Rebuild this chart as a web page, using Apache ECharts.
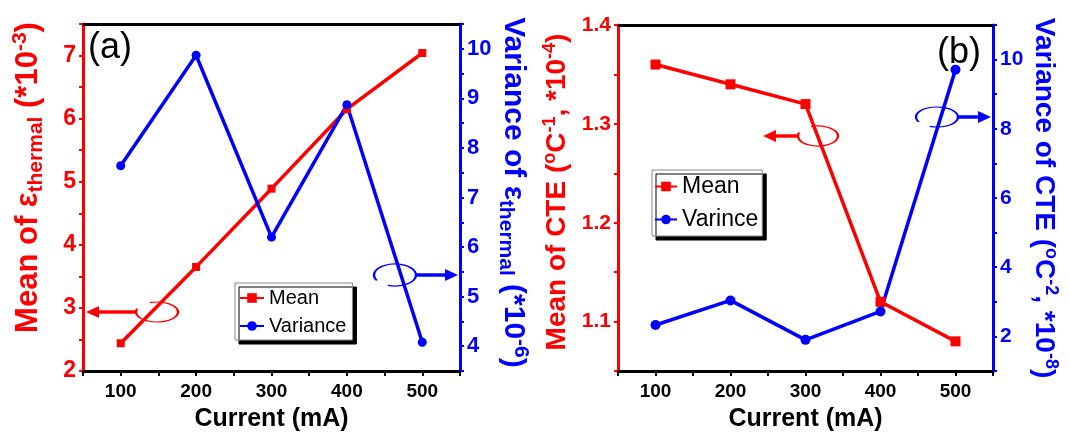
<!DOCTYPE html>
<html><head><meta charset="utf-8">
<script src="https://cdn.jsdelivr.net/npm/echarts@6/dist/echarts.min.js"></script>
<style>html,body{margin:0;padding:0;background:#fff}#c{width:1069px;height:437px}</style>
</head><body><div id="c"></div>
<script>
// ---- data ----
var currents = [100, 200, 300, 400, 500];
var meanThermal = [2.44, 3.65, 4.89, 6.15, 7.04];
var varThermal = [7.64, 9.87, 6.2, 8.87, 4.08];
var meanCTE = [1.36, 1.34, 1.32, 1.12, 1.08];
var varCTE = [2.33, 3.04, 1.9, 2.72, 9.71];
var xTicks = [100, 200, 300, 400, 500];
var legendA = ['Mean', 'Variance'];
var legendB = ['Mean', 'Varince'];

function pairs(xs, ys) { return xs.map(function (x, i) { return [x, ys[i]]; }); }

var RED = '#ff0000', BLUE = '#0000ff', FF = 'Liberation Sans';
var chart = echarts.init(document.getElementById('c'));

function xAx(grid, pos) {
  var top = pos === 'top';
  return {
    type: 'value', gridIndex: grid, position: pos, min: 50, max: 550, interval: 50,
    name: top ? '' : 'Current (mA)', nameLocation: 'middle', nameGap: 36,
    nameTextStyle: { fontFamily: FF, fontWeight: 'bold', fontSize: 25, color: '#000' },
    axisLine: { show: true, onZero: false, lineStyle: { color: '#000', width: 3 } },
    axisTick: { show: !top, length: 5, lineStyle: { color: '#000', width: 2 } },
    axisLabel: { show: !top, margin: 11, fontFamily: FF, fontWeight: 'bold', fontSize: 19, color: '#000',
      formatter: function (v) { return xTicks.indexOf(Math.round(v)) >= 0 ? String(Math.round(v)) : ''; } },
    splitLine: { show: false }
  };
}

function richBig(size, subSize, color) {
  return {
    m: { fontFamily: FF, fontWeight: 'bold', fontSize: size, color: color },
    sub: { fontFamily: FF, fontWeight: 'bold', fontSize: subSize, color: color, padding: [Math.round(size * 0.5), 0, 0, 0] },
    sup: { fontFamily: FF, fontWeight: 'bold', fontSize: subSize, color: color, padding: [0, 0, Math.round(size * 0.5), 0] }
  };
}

function yAx(grid, pos, color, min, max, interval, fmt, fontSize, name, rich, nameGap, namePad) {
  return {
    type: 'value', gridIndex: grid, position: pos, min: min, max: max, interval: interval,
    name: name, nameLocation: 'middle', nameGap: nameGap, nameRotate: pos === 'left' ? 90 : -90,
    nameTextStyle: { rich: rich, padding: namePad },
    axisLine: { show: true, onZero: false, lineStyle: { color: color, width: 3 } },
    axisTick: { show: true, length: 4, lineStyle: { color: color, width: 2 } },
    axisLabel: { margin: 7, fontFamily: FF, fontWeight: 'bold', fontSize: fontSize, color: color, formatter: fmt },
    splitLine: { show: false }
  };
}

function intFmt(v) { var r = Math.round(v * 100); return r % 100 === 0 ? String(r / 100) : ''; }
function evenFmt(v) { var r = Math.round(v); return (Math.abs(v - r) < 1e-6 && r % 2 === 0) ? String(r) : ''; }
function tenthFmt(v) { var r = Math.round(v * 100); return r % 10 === 0 ? (r / 100).toFixed(1) : ''; }

function ellipseArrow(cx, cy, rx, ry, color, gapStart, gapEnd, x1, x2) {
  var dir = x2 > x1 ? 1 : -1;
  return [
    { type: 'arc', x: cx, y: cy, scaleY: ry / rx, silent: true,
      shape: { cx: 0, cy: 0, r: rx, startAngle: gapEnd * Math.PI / 180, endAngle: (gapStart + 360) * Math.PI / 180, clockwise: true },
      style: { stroke: color, lineWidth: 2.4, fill: null, strokeNoScale: true }, z: 50 },
    { type: 'line', silent: true, shape: { x1: x1, y1: cy, x2: x2 - dir * 10, y2: cy },
      style: { stroke: color, lineWidth: 3.5 }, z: 50 },
    { type: 'polygon', silent: true, shape: { points: [[x2, cy], [x2 - dir * 13, cy - 6], [x2 - dir * 13, cy + 6]] },
      style: { fill: color }, z: 50 }
  ];
}

var graphics = [
  { type: 'text', left: 88, top: 30, style: { text: '(a)', fontFamily: FF, fontSize: 36, fill: '#000' }, z: 60 },
  { type: 'text', left: 937, top: 35, style: { text: '(b)', fontFamily: FF, fontSize: 36, fill: '#000' }, z: 60 }
].concat(
  ellipseArrow(157, 312, 21, 10, RED, 200, 250, 136, 86),
  ellipseArrow(395, 275, 21, 11, BLUE, 110, 150, 417, 458),
  ellipseArrow(818, 136, 20, 10, RED, 200, 250, 799, 763),
  ellipseArrow(937, 117, 21, 10, BLUE, 110, 150, 958, 991)
);

function lineSeries(name, xi, yi, xs, ys, color, symbol, size) {
  return {
    name: name, type: 'line', xAxisIndex: xi, yAxisIndex: yi, data: pairs(xs, ys),
    symbol: symbol, symbolSize: size, showSymbol: true,
    lineStyle: { color: color, width: 3.5 }, itemStyle: { color: color }, z: 5
  };
}

var legendBase = {
  orient: 'vertical', itemWidth: 24, itemHeight: 12, backgroundColor: '#fff',
  borderColor: '#888', borderWidth: 1, shadowColor: '#000', shadowBlur: 0.5, shadowOffsetX: 4, shadowOffsetY: 4,
  selectedMode: false
};

chart.setOption({
  animation: false,
  backgroundColor: '#fff',
  grid: [
    { left: 83, top: 24, width: 377, height: 348 },
    { left: 618, top: 25, width: 375, height: 349 }
  ],
  xAxis: [xAx(0, 'bottom'), xAx(0, 'top'), xAx(1, 'bottom'), xAx(1, 'top')],
  yAxis: [
    yAx(0, 'left', RED, 2, 7.5, 0.5, intFmt, 23,
      '{m|Mean of ε}{sub|thermal}{m| (*10}{sup|-3}{m|)}', richBig(31, 21, RED), 36, [0, 0, 0, 40]),
    yAx(0, 'right', BLUE, 3.5, 10.5, 0.5, intFmt, 22,
      '{m|Variance of ε}{sub|thermal}{m| (*10}{sup|-6}{m|)}', richBig(30, 21, BLUE), 35, [0, 10, 0, 0]),
    yAx(1, 'left', RED, 1.05, 1.4, 0.05, tenthFmt, 21,
      '{m|Mean of CTE (}{sup|o}{m|C}{sup|-1}{m|, *10}{sup|-4}{m|)}', richBig(28, 18, RED), 45, [0, 0, 0, 12]),
    yAx(1, 'right', BLUE, 1, 11, 1, evenFmt, 21,
      '{m|Variance of CTE (}{sup|o}{m|C}{sup|-2}{m|, *10}{sup|-8}{m|)}', richBig(28, 18, BLUE), 35, 0)
  ],
  legend: [
    Object.assign({}, legendBase, { left: 235, top: 283, padding: [5, 6, 4, 4], itemGap: 8,
      data: ['Mean', 'Variance'], textStyle: { fontFamily: FF, fontSize: 20, color: '#000' },
      formatter: function (n) { return n === 'Mean' ? legendA[0] : legendA[1]; } }),
    Object.assign({}, legendBase, { left: 652, top: 170, padding: [5, 4, 5, 2], itemGap: 10, itemWidth: 22,
      data: ['Mean (b)', 'Varince (b)'], textStyle: { fontFamily: FF, fontSize: 23, color: '#000' },
      formatter: function (n) { return n === 'Mean (b)' ? legendB[0] : legendB[1]; } })
  ],
  series: [
    lineSeries('Mean', 0, 0, currents, meanThermal, RED, 'rect', 8),
    lineSeries('Variance', 0, 1, currents, varThermal, BLUE, 'circle', 9),
    lineSeries('Mean (b)', 2, 2, currents, meanCTE, RED, 'rect', 10),
    lineSeries('Varince (b)', 2, 3, currents, varCTE, BLUE, 'circle', 10)
  ],
  graphic: graphics
});
</script></body></html>
